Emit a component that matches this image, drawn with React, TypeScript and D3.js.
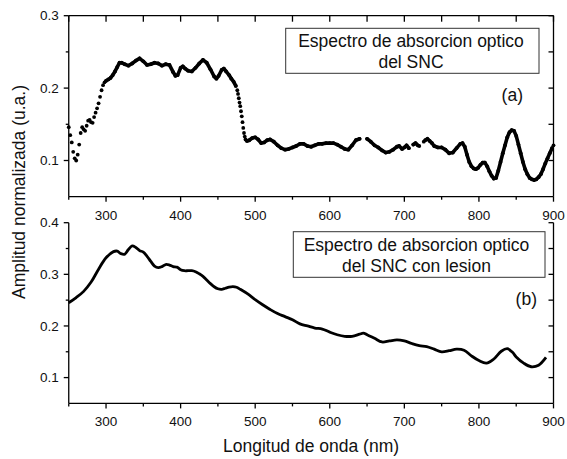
import React from 'react';
import * as d3 from 'd3';

const W = 567;
const H = 459;
const FONT = 'Arial, "Liberation Sans", sans-serif';

// panel (a): dotted spectrum, gaps are missing samples
const topWavelength = [
  250, 252, 254, 256, 258, 260, 262, 264, 266, 268, 270, 272, 274, 276, 278, 280, 282, 284, 286, 288,
  290, 292, 294, 296, 298, 300, 303, 306, 309, 312, 315, 318, 321, 325, 330, 335, 340, 345, 350, 355,
  360, 365, 370, 375, 380, 385, 390, 393, 396, 400, 403, 406, 410, 415, 420, 425, 430, 435, 440, 445,
  448, 451, 455, 458, 461, 465, 468, 471, 474, 476, 477, 478, 479, 480, 481, 482, 483, 484, 485, 486,
  487, 489, 492, 496, 500, 504, 508, 512, 516, 520, 525, 530, 535, 540, 545, 550, 555, 560, 565, 570,
  575, 580, 585, 590, 595, 600, 605, 610, 615, 620, 625, 630, 635, 640, 650, 655, 660, 665, 670, 675,
  680, 685, 690, 693, 697, 700, 703, 706, 712, 715, 718, 720, 726, 728, 731, 734, 737, 740, 745, 750,
  755, 760, 765, 770, 775, 778, 781, 784, 787, 790, 793, 796, 799, 802, 805, 808, 811, 814, 817, 820,
  823, 826, 829, 832, 835, 838, 841, 844, 847, 850, 853, 856, 859, 862, 865, 868, 871, 874, 877, 880,
  883, 886, 889, 892, 895, 898, 900,
];
const topAmplitude = [
  0.146, 0.135, 0.125, 0.112, 0.103, 0.1, 0.108, 0.122, 0.138, 0.146, 0.143, 0.141, 0.148, 0.155, 0.156, 0.153, 0.152, 0.16, 0.166, 0.172,
  0.179, 0.188, 0.197, 0.204, 0.208, 0.21, 0.212, 0.214, 0.218, 0.223, 0.229, 0.235, 0.235, 0.233, 0.231, 0.234, 0.238, 0.241, 0.237, 0.232,
  0.233, 0.235, 0.234, 0.231, 0.233, 0.232, 0.222, 0.217, 0.218, 0.228, 0.23, 0.227, 0.224, 0.223, 0.228, 0.234, 0.239, 0.235, 0.226, 0.216,
  0.213, 0.217, 0.225, 0.227, 0.223, 0.218, 0.213, 0.209, 0.203, 0.197, 0.192, 0.186, 0.18, 0.175, 0.168, 0.161, 0.153, 0.145, 0.138, 0.133,
  0.129, 0.127, 0.128, 0.131, 0.132, 0.129, 0.124, 0.125, 0.128, 0.129, 0.126, 0.121, 0.117, 0.115, 0.116, 0.118, 0.12, 0.123, 0.123, 0.12,
  0.119, 0.121, 0.123, 0.123, 0.124, 0.124, 0.124, 0.122, 0.119, 0.116, 0.115, 0.121, 0.128, 0.13, 0.13, 0.126, 0.121, 0.118, 0.114, 0.111,
  0.112, 0.115, 0.119, 0.12, 0.116, 0.118, 0.121, 0.117, 0.122, 0.124, 0.121, 0.12, 0.126, 0.128, 0.13, 0.127, 0.124, 0.12, 0.118, 0.118,
  0.115, 0.11, 0.111, 0.117, 0.123, 0.124, 0.119, 0.108, 0.098, 0.092, 0.089, 0.088, 0.09, 0.094, 0.097, 0.097, 0.092, 0.085, 0.079, 0.075,
  0.076, 0.086, 0.098, 0.11, 0.121, 0.132, 0.139, 0.142, 0.141, 0.134, 0.122, 0.11, 0.098, 0.088, 0.081, 0.076, 0.074, 0.073, 0.074, 0.077,
  0.081, 0.088, 0.096, 0.103, 0.11, 0.117, 0.121,
];

// panel (b): continuous spectrum
const bottomWavelength = [
  250, 260, 270, 280, 290, 300, 310, 315, 320, 325, 330, 335, 340, 345, 350, 355, 360, 365, 370, 375,
  380, 385, 390, 395, 400, 405, 410, 415, 420, 425, 430, 435, 440, 445, 450, 455, 460, 465, 470, 475,
  480, 490, 500, 510, 520, 530, 540, 550, 560, 570, 580, 590, 600, 610, 620, 630, 640, 645, 650, 660,
  670, 680, 690, 700, 710, 720, 730, 740, 750, 760, 770, 780, 790, 800, 810, 820, 830, 838, 845, 850,
  860, 870, 880, 890,
];
const bottomAmplitude = [
  0.245, 0.255, 0.267, 0.285, 0.31, 0.332, 0.344, 0.345, 0.34, 0.339, 0.348, 0.355, 0.352, 0.346, 0.343, 0.335, 0.325, 0.316, 0.313, 0.315,
  0.319, 0.318, 0.315, 0.314, 0.309, 0.307, 0.307, 0.307, 0.305, 0.301, 0.296, 0.289, 0.282, 0.276, 0.272, 0.271, 0.273, 0.275, 0.276, 0.275,
  0.271, 0.262, 0.251, 0.241, 0.232, 0.224, 0.218, 0.212, 0.204, 0.2, 0.196, 0.194, 0.188, 0.183, 0.18, 0.18, 0.184, 0.186, 0.183, 0.176,
  0.169, 0.171, 0.173, 0.171, 0.166, 0.162, 0.16, 0.155, 0.15, 0.152, 0.155, 0.153, 0.142, 0.133, 0.128, 0.136, 0.151, 0.156, 0.149, 0.14,
  0.128, 0.121, 0.124, 0.139,
];

const xMajorTicks = [300, 400, 500, 600, 700, 800, 900];
const xMinorTicks = [250, 350, 450, 550, 650, 750, 850];
const topYMajor = [0.1, 0.2, 0.3];
const topYMinor = [0.15, 0.25];
const bottomYMajor = [0.1, 0.2, 0.3, 0.4];
const bottomYMinor = [0.15, 0.25, 0.35];

const x = d3.scaleLinear().domain([250, 900]).range([68.75, 553.5]);
const yTop = d3.scaleLinear().domain([0.05, 0.3]).range([196.7, 15.7]);
const yBottom = d3.scaleLinear().domain([0.05, 0.4]).range([403.4, 222.7]);

const Frame: React.FC<{
  y: d3.ScaleLinear<number, number>;
  major: number[];
  minor: number[];
  closedTop: boolean;
}> = ({ y, major, minor, closedTop }) => {
  const [x0, x1] = x.range();
  const [yb, yt] = y.range();
  const fmt = d3.format('.1f');
  return (
    <g stroke="#000" strokeWidth={1.3} fill="none">
      <line x1={x0} x2={x0} y1={yb} y2={yt} />
      <line x1={x1} x2={x1} y1={yb} y2={yt} />
      <line x1={x0} x2={x1} y1={yb} y2={yb} />
      {closedTop && <line x1={x0} x2={x1} y1={yt} y2={yt} />}
      {major.map((v) => (
        <g key={'ym' + v}>
          <line x1={x0 - 5} x2={x0} y1={y(v)} y2={y(v)} />
          <line x1={x1 - 5} x2={x1} y1={y(v)} y2={y(v)} />
          <text
            x={x0 - 10}
            y={y(v)}
            dy="0.35em"
            textAnchor="end"
            stroke="none"
            fill="#111"
            fontSize={13.5}
            fontFamily={FONT}
          >
            {fmt(v)}
          </text>
        </g>
      ))}
      {minor.map((v) => (
        <g key={'yn' + v}>
          <line x1={x0 - 3} x2={x0} y1={y(v)} y2={y(v)} />
          <line x1={x1 - 5} x2={x1} y1={y(v)} y2={y(v)} />
        </g>
      ))}
      {xMajorTicks.map((v) => (
        <g key={'xm' + v}>
          <line x1={x(v)} x2={x(v)} y1={yb} y2={yb + 5} />
          {closedTop && <line x1={x(v)} x2={x(v)} y1={yt} y2={yt + 6} />}
          <text
            x={x(v)}
            y={yb + 23}
            textAnchor="middle"
            stroke="none"
            fill="#111"
            fontSize={13.5}
            fontFamily={FONT}
          >
            {v}
          </text>
        </g>
      ))}
      {xMinorTicks.map((v) => (
        <g key={'xn' + v}>
          <line x1={x(v)} x2={x(v)} y1={yb} y2={yb + 3} />
          {closedTop && <line x1={x(v)} x2={x(v)} y1={yt} y2={yt + 6} />}
        </g>
      ))}
    </g>
  );
};

const Legend: React.FC<{ box: [number, number, number, number]; lines: string[]; cx: number }> = ({
  box,
  lines,
  cx,
}) => (
  <g fontFamily={FONT} fontSize={17.5} fill="#111">
    <rect x={box[0]} y={box[1]} width={box[2] - box[0]} height={box[3] - box[1]} fill="#fff" stroke="#333" strokeWidth={1} />
    {lines.map((t, i) => (
      <text key={t} x={cx} y={box[1] + 19 + i * 21} textAnchor="middle">
        {t}
      </text>
    ))}
  </g>
);

const App: React.FC = () => {
  const line = d3
    .line<number>()
    .x((d, i) => x(bottomWavelength[i]))
    .y((d) => yBottom(d))
    .curve(d3.curveCatmullRom.alpha(0.5));

  // the densely sampled stretches of (a) read as a solid trace; the sparse
  // 1-2 nm samples on steep parts stay as loose dots
  const topSegments: string[] = [];
  for (let i = 1; i < topWavelength.length; i++) {
    const dl = topWavelength[i] - topWavelength[i - 1];
    if (dl >= 2.5 && dl <= 5.5) {
      topSegments.push(
        `M${x(topWavelength[i - 1])},${yTop(topAmplitude[i - 1])}L${x(topWavelength[i])},${yTop(topAmplitude[i])}`,
      );
    }
  }

  return (
    <svg
      width={W}
      height={H}
      viewBox={`0 0 ${W} ${H}`}
      style={{ position: 'absolute', left: 0, top: 0, background: '#fff' }}
    >
      <rect width={W} height={H} fill="#fff" />

      <Legend
        box={[285.7, 28.3, 539, 73.3]}
        lines={['Espectro de absorcion optico', 'del SNC']}
        cx={411}
      />
      <text x={523} y={101} textAnchor="end" fontFamily={FONT} fontSize={17.5} fill="#111">
        (a)
      </text>

      <Legend
        box={[293.3, 231.7, 545, 277.3]}
        lines={['Espectro de absorcion optico', 'del SNC con lesion']}
        cx={416.5}
      />
      <text x={537} y={305} textAnchor="end" fontFamily={FONT} fontSize={17.5} fill="#111">
        (b)
      </text>

      <path
        d={topSegments.join('')}
        fill="none"
        stroke="#000"
        strokeWidth={3.6}
        strokeLinecap="round"
      />
      <g fill="#000">
        {topAmplitude.map((v, i) => (
          <circle key={i} cx={x(topWavelength[i])} cy={yTop(v)} r={1.9} />
        ))}
      </g>

      <path d={line(bottomAmplitude) || ''} fill="none" stroke="#000" strokeWidth={2.8} strokeLinejoin="round" />

      <Frame y={yTop} major={topYMajor} minor={topYMinor} closedTop />
      <Frame y={yBottom} major={bottomYMajor} minor={bottomYMinor} closedTop={false} />

      <text
        transform="translate(25,192) rotate(-90)"
        textAnchor="middle"
        fontFamily={FONT}
        fontSize={17.5}
        fill="#111"
      >
        Amplitud normalizada (u.a.)
      </text>
      <text x={311} y={452} textAnchor="middle" fontFamily={FONT} fontSize={17.5} fill="#111">
        Longitud de onda (nm)
      </text>
    </svg>
  );
};

export default App;
